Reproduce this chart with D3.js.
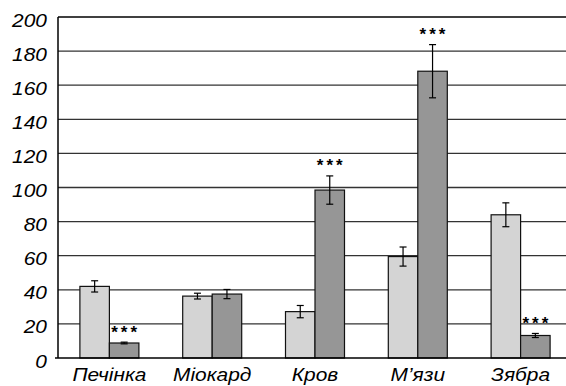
<!DOCTYPE html>
<html lang="uk">
<head>
<meta charset="UTF-8">
<title>Chart</title>
<script src="https://cdnjs.cloudflare.com/ajax/libs/d3/7.8.5/d3.min.js"></script>
<style>
  body { margin: 0; background: #fff; }
  text { font-family: "Liberation Sans", Arial, sans-serif; }
</style>
</head>
<body>
<svg width="566" height="386"></svg>
<script>
"use strict";

const categories = ["Печінка", "Міокард", "Кров", "М\u2019язи", "Зябра"];
const controlVals = [42, 36.3, 27.2, 59.5, 84];
const controlErr = [3.3, 1.7, 3.6, 5.6, 7];
const treatedVals = [8.8, 37.5, 98.5, 168.2, 13.2];
const treatedErr = [0.5, 2.7, 8.3, 15.6, 1.2];
const starred = [true, false, true, true, true];
const yTicks = [0, 20, 40, 60, 80, 100, 120, 140, 160, 180, 200];

const svg = d3.select("svg");
const margin = { left: 58, top: 17, right: -6, bottom: 28 };
const width = +svg.attr("width");
const height = +svg.attr("height");

const y = d3.scaleLinear().domain([0, 200]).range([height - margin.bottom, margin.top]);
const x = d3.scaleBand().domain(categories).range([margin.left, width - margin.right]).padding(0);
const barW = 29.5;

// gridlines
svg.append("g")
    .selectAll("line")
    .data(yTicks.filter(d => d > 0))
    .join("line")
    .attr("x1", margin.left)
    .attr("x2", width)
    .attr("y1", d => y(d))
    .attr("y2", d => y(d))
    .attr("stroke", d => d === 200 ? "#000" : "#333")
    .attr("stroke-width", 1.3);

// y labels
svg.append("g")
    .selectAll("text")
    .data(yTicks)
    .join("text")
    .attr("transform", d => `translate(47,${y(d) + 9.5}) scale(1.1,1)`)
    .attr("text-anchor", "end")
    .attr("font-size", 19)
    .attr("font-style", "italic")
    .text(d => d);

const rows = categories.map((c, i) => ({
    c, a: controlVals[i], ae: controlErr[i], b: treatedVals[i], be: treatedErr[i], s: starred[i]
}));

const bars = [];
rows.forEach(r => {
    const cx = x(r.c) + x.bandwidth() / 2;
    bars.push({ x0: cx - barW, v: r.a, e: r.ae, fill: "#d4d4d4" });
    bars.push({ x0: cx, v: r.b, e: r.be, fill: "#969696", star: r.s });
});

svg.append("g")
    .selectAll("rect")
    .data(bars)
    .join("rect")
    .attr("x", d => d.x0)
    .attr("y", d => y(d.v))
    .attr("width", barW)
    .attr("height", d => y(0) - y(d.v))
    .attr("fill", d => d.fill)
    .attr("stroke", "#111")
    .attr("stroke-width", 1.2);

// error bars
const eb = svg.append("g").attr("stroke", "#000").attr("stroke-width", 1.2);
bars.forEach(d => {
    const cx = d.x0 + barW / 2;
    eb.append("line").attr("x1", cx).attr("x2", cx).attr("y1", y(d.v + d.e)).attr("y2", y(d.v - d.e));
    eb.append("line").attr("x1", cx - 3.5).attr("x2", cx + 3.5).attr("y1", y(d.v + d.e)).attr("y2", y(d.v + d.e));
    eb.append("line").attr("x1", cx - 3.5).attr("x2", cx + 3.5).attr("y1", y(d.v - d.e)).attr("y2", y(d.v - d.e));
});

// stars
svg.append("g")
    .selectAll("text")
    .data(bars.filter(d => d.star))
    .join("text")
    .attr("x", d => d.x0 + barW / 2 + 1.5)
    .attr("y", d => y(d.v + d.e) - 4.5)
    .attr("text-anchor", "middle")
    .attr("font-family", "DejaVu Sans")
    .attr("font-size", 17)
    .attr("font-weight", "bold")
    .attr("letter-spacing", 3)
    .text("***");

// x axis
svg.append("line")
    .attr("x1", 55).attr("x2", width)
    .attr("y1", y(0)).attr("y2", y(0))
    .attr("stroke", "#000").attr("stroke-width", 1.5);
svg.append("line")
    .attr("x1", margin.left).attr("x2", margin.left)
    .attr("y1", y(200)).attr("y2", y(0))
    .attr("stroke", "#000").attr("stroke-width", 1.5);

svg.append("g")
    .selectAll("text")
    .data(categories)
    .join("text")
    .attr("transform", d => `translate(${x(d) + x.bandwidth() / 2},381) scale(1.1,1)`)
    .attr("text-anchor", "middle")
    .attr("font-size", 19)
    .attr("font-style", "italic")
    .text(d => d);
</script>
</body>
</html>
